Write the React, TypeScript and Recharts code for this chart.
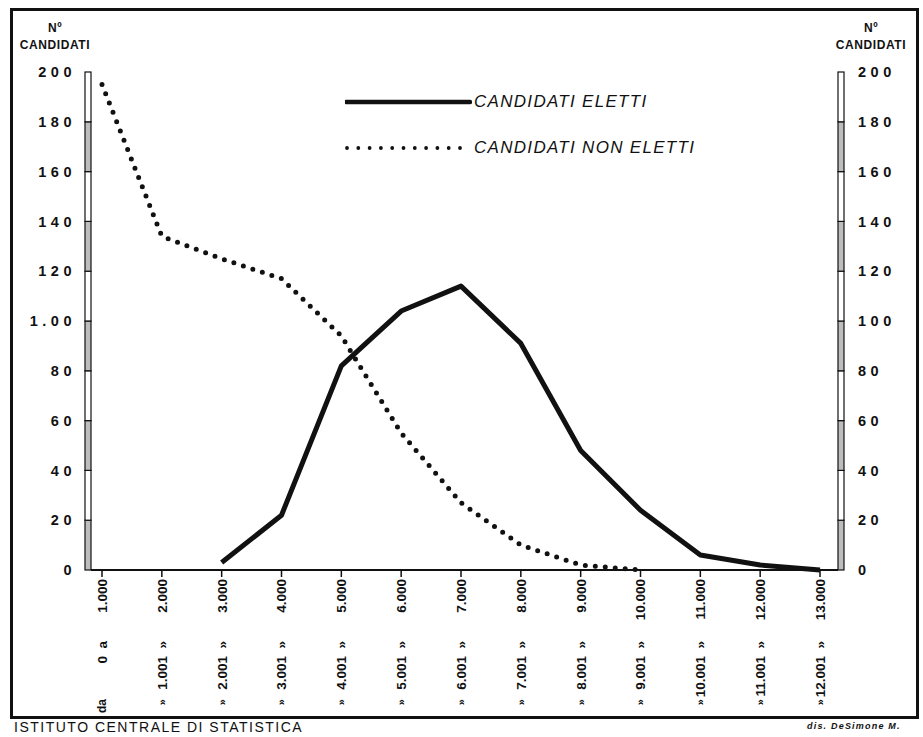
import React from "react";
import { LineChart, Line, XAxis, YAxis, Legend } from "recharts";

// classi di voti (limite inferiore / superiore)
const lowerBounds = ["0", "1.001", "2.001", "3.001", "4.001", "5.001", "6.001", "7.001", "8.001", "9.001", "10.001", "11.001", "12.001"];
const upperBounds = ["1.000", "2.000", "3.000", "4.000", "5.000", "6.000", "7.000", "8.000", "9.000", "10.000", "11.000", "12.000", "13.000"];

const eletti = [null, null, 3, 22, 82, 104, 114, 91, 48, 24, 6, 2, 0];
const nonEletti = [195, 134, 125, 117, 94, 55, 27, 10, 2, 0, null, null, null];

const yTicks = [0, 20, 40, 60, 80, 100, 120, 140, 160, 180, 200];
const leftTickLabels = ["0", "20", "40", "60", "80", "1.00", "120", "140", "160", "180", "200"];
const rightTickLabels = ["0", "20", "40", "60", "80", "100", "120", "140", "160", "180", "200"];

const data = upperBounds.map((u, i) => ({
  range: u,
  eletti: eletti[i],
  nonEletti: nonEletti[i],
}));

const FONT = "'Liberation Sans', Arial, sans-serif";
const INK = "#111";
const PLOT_TOP = 72;
const PLOT_BOTTOM = 570;
const SEG = (PLOT_BOTTOM - PLOT_TOP) / 10;

const XTick = (props: any) => {
  const { x, y, payload } = props;
  const i = upperBounds.indexOf(payload.value);
  const first = i === 0;
  const common = {
    transform: `rotate(-90 ${x} ${y})`,
    textAnchor: "end" as const,
    fontSize: 13.5,
    fontFamily: FONT,
    fontWeight: 700,
    fill: INK,
    dy: "0.36em",
  };
  return (
    <g>
      <text {...common} x={x} y={y}>{upperBounds[i]}</text>
      <text {...common} x={x - 62} y={y}>
        {first ? "0\u00a0\u00a0a" : `${lowerBounds[i]}\u00a0\u00a0»`}
      </text>
      <text {...common} x={x - 120} y={y} fontSize={first ? 12 : 11}>{first ? "da" : "»"}</text>
    </g>
  );
};

const segFill = (v: number) => ((v / 20) % 2 === 0 ? "#fff" : "#bdbdbd");

const LeftTick = (props: any) => {
  const { x, y, payload } = props;
  const v = payload.value;
  const k = yTicks.indexOf(v);
  return (
    <g>
      {v > 0 && (
        <rect x={x + 9} y={y} width={6} height={SEG} fill={segFill(v)} stroke={INK} strokeWidth={1.2} />
      )}
      <text x={x} y={y} dy="0.36em" textAnchor="end" fontSize={14.5} fontWeight={700} fontFamily={FONT} fill={INK} letterSpacing={4.5}>
        {leftTickLabels[k]}
      </text>
    </g>
  );
};

const RightTick = (props: any) => {
  const { x, y, payload } = props;
  const v = payload.value;
  const k = yTicks.indexOf(v);
  return (
    <g>
      {v > 0 && (
        <rect x={x - 20} y={y} width={6} height={SEG} fill={segFill(v)} stroke={INK} strokeWidth={1.2} />
      )}
      <text x={x} y={y} dy="0.36em" textAnchor="start" fontSize={14.5} fontWeight={700} fontFamily={FONT} fill={INK} letterSpacing={4.5}>
        {rightTickLabels[k]}
      </text>
    </g>
  );
};

const LegendContent = (props: any) => {
  const items = (props.payload || []).filter((it: any) => it.type !== "none");
  return (
    <div style={{ fontFamily: FONT }}>
      {items.map((it: any, i: number) => (
        <div key={it.value} style={{ display: "flex", alignItems: "center", height: 28, marginTop: i === 0 ? 0 : 18 }}>
          <svg width={127} height={10}>
            {i === 0 ? (
              <line x1={1} y1={5} x2={125} y2={5} stroke={INK} strokeWidth={4.5} strokeLinecap="round" />
            ) : (
              <line x1={2} y1={5} x2={126} y2={5} stroke={INK} strokeWidth={3.8} strokeLinecap="round" strokeDasharray="0 11.3" />
            )}
          </svg>
          <span style={{ fontStyle: "italic", fontSize: 17, letterSpacing: 1.3, color: INK, marginLeft: 2 }}>
            {it.value}
          </span>
        </div>
      ))}
    </div>
  );
};

const headStyle: React.CSSProperties = {
  position: "absolute",
  fontFamily: FONT,
  fontWeight: 700,
  fontSize: 12,
  color: INK,
  textAlign: "center",
  lineHeight: "17px",
  letterSpacing: 0.6,
};

export default function App() {
  return (
    <div style={{ position: "absolute", left: 0, top: 0, width: 923, height: 737, background: "#fff", overflow: "hidden" }}>
      <div style={{ position: "absolute", left: 10, top: 8, width: 903, height: 705, border: `3px solid ${INK}` }} />
      <div style={{ ...headStyle, left: 12, top: 20, width: 86 }}>
        Nº<br />CANDIDATI
      </div>
      <div style={{ ...headStyle, left: 828, top: 20, width: 86 }}>
        Nº<br />CANDIDATI
      </div>
      <LineChart width={923} height={737} data={data} margin={{ top: PLOT_TOP, right: 0, bottom: 17, left: 0 }} style={{ position: "absolute", left: 0, top: 0 }}>
        <XAxis
          dataKey="range"
          interval={0}
          height={150}
          padding={{ left: 11, right: 18 }}
          axisLine={{ stroke: INK, strokeWidth: 2 }}
          tickLine={{ stroke: INK, strokeWidth: 1.5 }}
          tickSize={7}
          tick={XTick}
        />
        <YAxis yAxisId="left" orientation="left" width={91} domain={[0, 200]} ticks={yTicks} axisLine={false} tickLine={false} tickSize={0} tickMargin={15} tick={LeftTick} />
        <YAxis yAxisId="right" orientation="right" width={85} domain={[0, 200]} ticks={yTicks} axisLine={false} tickLine={false} tickSize={0} tickMargin={20} tick={RightTick} />
        <Legend
          layout="vertical"
          align="center"
          verticalAlign="middle"
          wrapperStyle={{ left: 345, top: 88, width: 420, height: 80 }}
          content={LegendContent}
        />
        <Line
          yAxisId="left"
          name="CANDIDATI ELETTI"
          dataKey="eletti"
          type="linear"
          stroke={INK}
          strokeWidth={5}
          strokeLinejoin="round"
          dot={false}
          activeDot={false}
          isAnimationActive={false}
        />
        <Line
          yAxisId="left"
          name="CANDIDATI NON ELETTI"
          dataKey="nonEletti"
          type="linear"
          stroke={INK}
          strokeWidth={5}
          strokeLinecap="round"
          strokeDasharray="0 10"
          dot={false}
          activeDot={false}
          isAnimationActive={false}
        />
        {/* serie invisibile per attivare la scala di destra */}
        <Line
          yAxisId="right"
          dataKey="eletti"
          stroke="none"
          legendType="none"
          dot={false}
          activeDot={false}
          isAnimationActive={false}
        />
      </LineChart>
      <div style={{ position: "absolute", left: 14, top: 718, fontFamily: FONT, fontSize: 14, letterSpacing: 1.5, color: INK, transform: "scaleY(1.1)", transformOrigin: "left top" }}>
        ISTITUTO CENTRALE DI STATISTICA
      </div>
      <div style={{ position: "absolute", left: 807, top: 721, fontFamily: FONT, fontSize: 9, fontStyle: "italic", fontWeight: 700, letterSpacing: 1.2, color: INK }}>
        dis. DeSimone M.
      </div>
    </div>
  );
}
